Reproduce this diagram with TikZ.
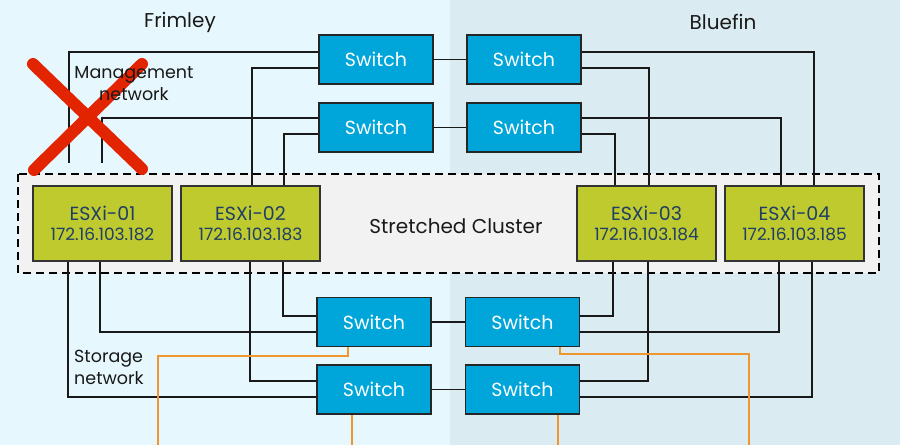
\documentclass[tikz,border=0pt]{standalone}
\usepackage{fontspec}
\setmainfont{Poppins}
\pgfdeclarelayer{bg}
\pgfsetlayers{bg,main}
\begin{document}
\begin{tikzpicture}[x=1pt,y=-1pt,
  switchbox/.style={draw=black!85,line width=1.3pt,fill=swblue,minimum width=114pt,minimum height=49pt,inner sep=0pt,text=white,font=\fontsize{19}{22}\selectfont},
  hostbox/.style={draw=black!80,line width=1.2pt,fill=esxgreen,minimum width=139pt,minimum height=75pt,inner sep=0pt,text=esxtext,align=center,font=\fontsize{19}{20}\selectfont},
  wire/.style={line width=1.2pt,draw=black!90},
  owire/.style={line width=1.3pt,draw=orangewire},
  lbl/.style={inner sep=0pt,font=\fontsize{20}{24}\selectfont,text=black!90},
  sidelbl/.style={inner sep=0pt,font=\fontsize{17.5}{22}\selectfont,text=black!90}]
\definecolor{bgleft}{HTML}{E6F8FE}
\definecolor{bgright}{HTML}{DAECF2}
\definecolor{swblue}{HTML}{00A6D9}
\definecolor{esxgreen}{HTML}{BFCA2E}
\definecolor{esxtext}{HTML}{1F3F66}
\definecolor{clusterfill}{HTML}{F2F2F2}
\definecolor{orangewire}{HTML}{F0962E}
\definecolor{redx}{HTML}{E22400}
\useasboundingbox (0,0) rectangle (900,445);
\begin{pgfonlayer}{bg}
\fill[bgleft] (0,0) rectangle (450,445);
\fill[bgright] (450,0) rectangle (900,445);
\draw[line width=1.2pt,fill=clusterfill,dash pattern=on 8pt off 5pt] (18,174) rectangle (879,273);
\end{pgfonlayer}
\node[lbl] (clab) at (456,226) {Stretched Cluster};
% site labels
\node[lbl] (frim) at (180,22) {Frimley};
\node[lbl] (blue) at (723,22) {Bluefin};
% switches
\node[switchbox] (s1) at (376,59.5) {Switch};
\node[switchbox] (s2) at (524,59.5) {Switch};
\node[switchbox] (s3) at (376,127.5) {Switch};
\node[switchbox] (s4) at (524,127.5) {Switch};
\node[switchbox] (s5) at (374,322) {Switch};
\node[switchbox] (s6) at (522.5,322) {Switch};
\node[switchbox] (s7) at (374,389.5) {Switch};
\node[switchbox] (s8) at (522.5,389.5) {Switch};
% hosts
\node[hostbox] (e1) at (102.5,223.5) {ESXi-01\\{\fontsize{17}{17}\selectfont 172.16.103.182}};
\node[hostbox] (e2) at (250.5,223.5) {ESXi-02\\{\fontsize{17}{17}\selectfont 172.16.103.183}};
\node[hostbox] (e3) at (646.5,223.5) {ESXi-03\\{\fontsize{17}{17}\selectfont 172.16.103.184}};
\node[hostbox] (e4) at (794.5,223.5) {ESXi-04\\{\fontsize{17}{17}\selectfont 172.16.103.185}};
% free ends
\coordinate (m1) at (69,163);
\coordinate (m2) at (102,163);
\coordinate (o1) at (158,445);
\coordinate (o2) at (352,445);
\coordinate (o3) at (749,445);
\coordinate (o4) at (558,445);
\begin{pgfonlayer}{bg}
% inter-site links
\draw[wire] (s1.east) -- (s2.west);
\draw[wire] (s3.east) -- (s4.west);
\draw[wire] (s5.east) -- (s6.west);
\draw[wire] (s7.east) -- (s8.west);
% top wiring
\draw[wire] (s1.west |- 0,52) -| (m1);
\draw[wire] (s3.west |- 0,118) -| (m2);
\draw[wire] (s1.west |- 0,68) -| (e2.north -| 252,0);
\draw[wire] (s3.west |- 0,134) -| (e2.north -| 284,0);
\draw[wire] (s2.east |- 0,52) -| (e4.north -| 814,0);
\draw[wire] (s2.east |- 0,68) -| (e3.north -| 649,0);
\draw[wire] (s4.east |- 0,118) -| (e4.north -| 781,0);
\draw[wire] (s4.east |- 0,134) -| (e3.north -| 615,0);
% bottom wiring
\draw[wire] (e1.south -| 68,0) |- (s7.west |- 0,397);
\draw[wire] (e1.south -| 100,0) |- (s5.west |- 0,332);
\draw[wire] (e2.south -| 250,0) |- (s7.west |- 0,381);
\draw[wire] (e2.south -| 283,0) |- (s5.west |- 0,316);
\draw[wire] (s6.east |- 0,316) -| (e3.south -| 613,0);
\draw[wire] (s6.east |- 0,332) -| (e4.south -| 779,0);
\draw[wire] (s8.east |- 0,381) -| (e3.south -| 648,0);
\draw[wire] (s8.east |- 0,397) -| (e4.south -| 812,0);
% orange uplinks
\draw[owire] (s5.south -| 348,0) |- (158,356) -- (o1);
\draw[owire] (s7.south -| 352,0) -- (o2);
\draw[owire] (s6.south -| 560,0) |- (749,354) -- (o3);
\draw[owire] (s8.south -| 558,0) -- (o4);
\end{pgfonlayer}
% red cross
\draw[redx,line width=12pt,line cap=round] (33,64) -- (142,169);
\draw[redx,line width=12pt,line cap=round] (142,64) -- (34,170);
% labels
\node[sidelbl,align=center] (mgmt) at (134,84) {Management\\network};
\node[sidelbl,align=left,anchor=west] (stor) at (74,367.5) {Storage\\network};
\end{tikzpicture}
\end{document}
